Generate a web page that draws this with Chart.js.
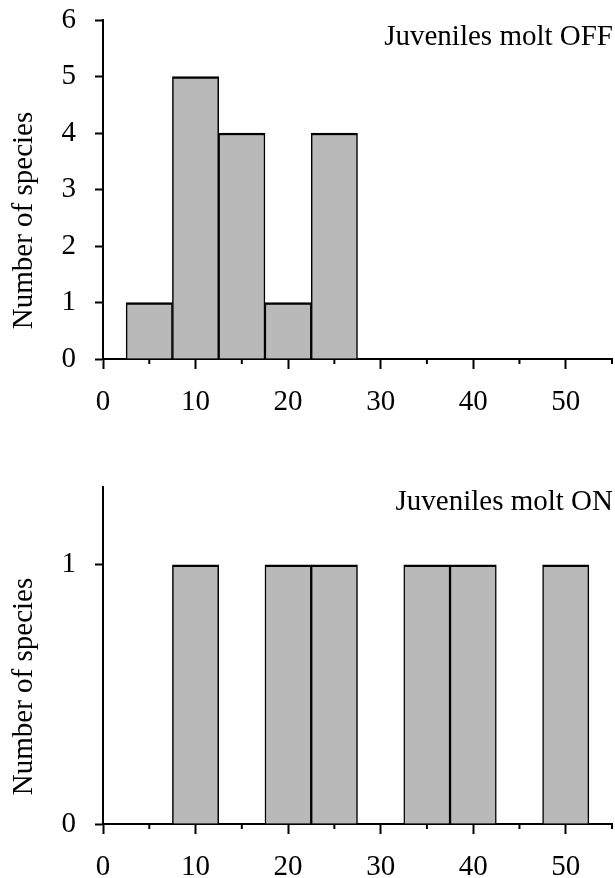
<!DOCTYPE html>
<html>
<head>
<meta charset="utf-8">
<script src="https://cdn.jsdelivr.net/npm/chart.js@4.4.0/dist/chart.umd.min.js"></script>
<style>
  html, body { margin: 0; padding: 0; background: #fff; }
  .box { position: relative; width: 615px; height: 439px; }
  canvas { display: block; }
</style>
</head>
<body>
<div class="box"><canvas id="offChart" width="615" height="439"></canvas></div>
<div class="box"><canvas id="onChart" width="615" height="439"></canvas></div>
<script>
// --- Datos ---
const offBins = [5, 10, 15, 20, 25];
const offCounts = [1, 5, 4, 1, 4];
const onBins = [10, 20, 25, 35, 40, 50];
const onCounts = [1, 1, 1, 1, 1, 1];
const xMin = 0, xMax = 55, xStep = 5;
const offYMax = 6;
const onYMax = 1.3;
const yLabel = 'Number of species';
const offTitle = 'Juveniles molt OFF';
const onTitle = 'Juveniles molt ON';

const FONT = '"Liberation Serif", "Times New Roman", serif';
const FSIZE = 29;

// ticks menores (5, 15, ...) mas cortos
const minorTicks = {
  id: 'minorTicks',
  afterDraw(c) {
    const x = c.scales.x;
    const ctx = c.ctx;
    ctx.save();
    ctx.strokeStyle = '#000';
    ctx.lineWidth = 2;
    x.ticks.forEach(t => {
      if (t.value % 10 === 0) return;
      const px = x.getPixelForValue(t.value);
      ctx.beginPath();
      ctx.moveTo(px, x.top);
      ctx.lineTo(px, x.top + 5);
      ctx.stroke();
    });
    ctx.restore();
  }
};

// textos: etiqueta del panel (arriba a la derecha) y titulo del eje y
const panelLabel = {
  id: 'panelLabel',
  afterDraw(c, args, opts) {
    const ctx = c.ctx;
    const area = c.chartArea;
    ctx.save();
    ctx.font = `${FSIZE}px ${FONT}`;
    ctx.fillStyle = '#000';
    ctx.textAlign = 'right';
    ctx.textBaseline = 'alphabetic';
    ctx.fillText(opts.text, area.right + 1, area.top + opts.dy);

    // titulo eje y, algo por debajo del centro como en el original
    ctx.translate(32, (area.top + area.bottom) / 2 + 31);
    ctx.rotate(-Math.PI / 2);
    ctx.textAlign = 'center';
    ctx.fillText(yLabel, 0, 0);
    ctx.restore();
  }
};

function makeChart(id, bins, counts, yMax, title, padTop, xHeight, titleDy) {
  return new Chart(document.getElementById(id), {
    type: 'bar',
    data: {
      datasets: [{
        data: bins.map((x, i) => ({ x, y: counts[i] })),
        backgroundColor: '#b9b9b9',
        borderColor: '#000',
        borderWidth: { top: 2.5, left: 1.5, right: 1.5, bottom: 0 },
        borderSkipped: false,
        barPercentage: 1,
        categoryPercentage: 1
      }]
    },
    options: {
      responsive: false,
      animation: false,
      layout: { padding: { top: padTop, right: 3, left: 0, bottom: 0 } },
      plugins: {
        legend: { display: false },
        tooltip: { enabled: false },
        panelLabel: { text: title, dy: titleDy }
      },
      scales: {
        x: {
          type: 'linear',
          min: xMin, max: xMax,
          offset: false,
          afterFit: s => {
            s.height = xHeight;
            s.paddingLeft = 0;
            s.paddingRight = 0;
          },
          border: { display: true, color: '#000', width: 2 },
          grid: {
            offset: false,
            drawOnChartArea: false,
            tickLength: 10,
            tickWidth: 2,
            tickColor: ctx => (ctx.tick && ctx.tick.value % 10 !== 0) ? 'rgba(0,0,0,0)' : '#000'
          },
          ticks: {
            stepSize: xStep,
            autoSkip: false,
            maxRotation: 0,
            padding: 16,
            color: '#000',
            font: { family: FONT, size: FSIZE },
            callback: v => (v % 10 === 0 ? v : '')
          }
        },
        y: {
          min: 0, max: yMax,
          afterFit: s => {
            s.width = 103;
            s.paddingTop = 0;
            s.paddingBottom = 0;
          },
          border: { display: true, color: '#000', width: 2 },
          grid: { drawOnChartArea: false, tickLength: 8, tickWidth: 2, tickColor: '#000' },
          ticks: {
            stepSize: 1,
            includeBounds: false,
            padding: 19,
            color: '#000',
            font: { family: FONT, size: FSIZE }
          }
        }
      }
    },
    plugins: [minorTicks, panelLabel]
  });
}

makeChart('offChart', offBins, offCounts, offYMax, offTitle, 20, 80, 25);
makeChart('onChart', onBins, onCounts, onYMax, onTitle, 48, 54, 23);
</script>
</body>
</html>
